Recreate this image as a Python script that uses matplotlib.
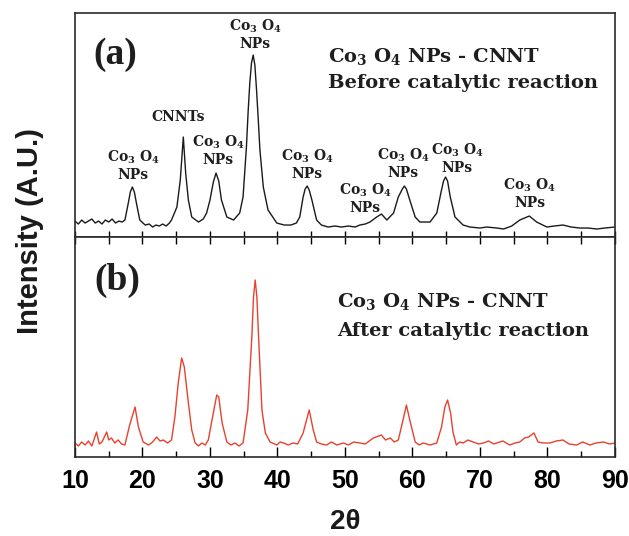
# XRD patterns of Co3O4 NPs - CNNT before and after the catalytic reaction

import matplotlib
matplotlib.use("Agg")
import matplotlib.pyplot as plt
from matplotlib.ticker import MultipleLocator

plt.rcParams["mathtext.fontset"] = "custom"
plt.rcParams["mathtext.rm"] = "DejaVu Serif:bold"
plt.rcParams["mathtext.it"] = "DejaVu Serif:bold"
plt.rcParams["mathtext.bf"] = "DejaVu Serif:bold"

# (a) before catalytic reaction (a.u.)
two_theta_a = [10.0, 10.5, 11.0, 11.5, 12.0, 12.5, 13.0, 13.5, 14.0, 14.5,
               15.0, 15.5, 16.0, 16.5, 17.0, 17.4, 17.9, 18.2, 18.5, 18.8,
               19.1, 19.6, 20.4, 21.0, 21.5, 22.0, 22.5, 23.0, 23.5, 24.0,
               24.3, 25.1, 25.6, 26.05, 26.4, 26.8, 27.3, 28.3, 29.0, 29.5,
               30.0, 30.5, 30.9, 31.3, 31.7, 32.5, 33.5, 34.4, 34.9, 35.4,
               35.65, 35.9, 36.15, 36.4, 36.65, 36.9, 37.15, 37.4, 37.9, 38.6,
               39.9, 41.0, 42.0, 42.8, 43.3, 43.8, 44.1, 44.4, 44.7, 45.1,
               45.8, 46.5, 47.5, 48.5, 49.5, 50.5, 51.5, 52.2, 53.0, 53.7,
               54.7, 55.4, 56.2, 57.2, 57.9, 58.5, 58.8, 59.1, 59.6, 60.4,
               61.1, 62.6, 63.6, 64.3, 64.6, 64.9, 65.2, 65.6, 66.3, 67.5,
               68.5, 70.0, 71.0, 72.5, 73.5, 74.7, 75.9, 77.3, 78.4, 79.9,
               81.0, 82.3, 83.5, 84.8, 86.0, 87.3, 88.5, 90.0]
intensity_a = [16, 13, 17, 14, 16, 18, 14, 16, 13, 17,
               15, 18, 14, 16, 15, 17, 34, 45, 50, 45,
               34, 17, 12, 13, 10, 12, 11, 13, 11, 14,
               17, 30, 57, 100, 64, 37, 20, 15, 18, 24,
               37, 55, 64, 56, 37, 20, 17, 24, 40, 90,
               125, 154, 174, 182, 172, 147, 118, 87, 50, 27,
               14, 12, 12, 14, 20, 40, 48, 51, 47, 37,
               17, 12, 10, 11, 10, 11, 10, 12, 13, 15,
               20, 23, 17, 24, 40, 48, 51, 48, 37, 20,
               15, 15, 24, 47, 56, 60, 56, 40, 20, 12,
               10, 9, 10, 9, 8, 11, 17, 21, 15, 10,
               11, 12, 10, 9, 9, 8, 9, 10]

# (b) after catalytic reaction
two_theta_b = [10.0, 10.5, 11.0, 11.5, 12.0, 12.5, 13.2, 13.6, 14.0, 14.7,
               15.0, 15.4, 15.9, 16.4, 16.9, 17.4, 18.1, 18.9, 19.4, 20.1,
               20.9, 21.5, 22.1, 22.6, 23.1, 23.7, 24.3, 24.8, 25.3, 25.8,
               26.2, 26.8, 27.3, 27.8, 28.3, 28.8, 29.3, 29.75, 30.3, 31.0,
               31.3, 31.8, 32.5, 33.1, 33.7, 34.3, 34.9, 35.6, 36.2, 36.45,
               36.7, 36.95, 37.2, 37.7, 38.2, 38.9, 39.9, 40.4, 40.9, 41.6,
               42.3, 43.0, 43.8, 44.7, 45.3, 45.8, 46.5, 47.3, 48.0, 48.8,
               49.8, 50.5, 51.3, 52.2, 53.0, 54.2, 55.4, 56.0, 56.7, 57.3,
               57.9, 58.6, 59.1, 59.6, 60.4, 61.0, 61.6, 62.6, 63.6, 64.3,
               64.8, 65.2, 65.65, 66.0, 66.5, 67.0, 67.5, 68.2, 69.0, 69.8,
               70.5, 71.3, 72.0, 72.5, 73.4, 74.4, 75.2, 75.9, 76.6, 77.2,
               78.0, 78.6, 79.4, 80.4, 81.3, 82.3, 83.2, 84.3, 85.2, 86.3,
               87.2, 88.3, 89.2, 90.0]
intensity_b = [14, 11, 15, 12, 16, 11, 25, 13, 15, 25,
               17, 19, 14, 17, 13, 12, 32, 50, 30, 15,
               12, 15, 20, 16, 17, 14, 17, 40, 74, 99,
               90, 54, 27, 14, 11, 14, 12, 17, 37, 62,
               60, 34, 15, 12, 14, 11, 14, 47, 120, 160,
               177, 160, 120, 47, 24, 15, 12, 15, 14, 12,
               14, 13, 24, 47, 27, 15, 13, 12, 15, 12,
               14, 12, 15, 14, 13, 19, 22, 17, 19, 15,
               17, 37, 52, 37, 15, 12, 14, 12, 14, 30,
               50, 57, 44, 25, 12, 15, 14, 17, 15, 13,
               14, 16, 13, 14, 16, 12, 14, 15, 19, 20,
               24, 15, 14, 14, 16, 17, 13, 12, 15, 12,
               14, 15, 13, 14]

# peak labels for panel (a): (2theta, height, text)
peak_x = [18.6, 25.3, 31.2, 36.7, 44.4, 53.0, 58.6, 66.6, 77.4]
peak_y = [72, 120, 87, 203, 73, 39, 74, 79, 44]
peak_text = ["Co$_3$ O$_4$\nNPs", "CNNTs", "Co$_3$ O$_4$\nNPs",
             "Co$_3$ O$_4$\nNPs", "Co$_3$ O$_4$\nNPs", "Co$_3$ O$_4$\nNPs",
             "Co$_3$ O$_4$\nNPs", "Co$_3$ O$_4$\nNPs", "Co$_3$ O$_4$\nNPs"]

fig = plt.figure(figsize=(6.29, 5.36), dpi=100)
ax_a = fig.add_axes([0.1192, 0.5578, 0.8585, 0.4179])
ax_b = fig.add_axes([0.1192, 0.1474, 0.8585, 0.4104])

ax_a.plot(two_theta_a, intensity_a, color="#1a1a1a", lw=1.0)
ax_b.plot(two_theta_b, intensity_b, color="#e8412e", lw=1.0)

ax_a.set_ylim(0, 224)
ax_b.set_ylim(0, 220)

for ax in (ax_a, ax_b):
    ax.set_xlim(10, 90)
    ax.set_yticks([])
    for s in ax.spines.values():
        s.set_linewidth(1.2)
        s.set_color("#2a2a2a")

# panel (a): small inward ticks along the bottom only
ax_a.xaxis.set_major_locator(MultipleLocator(5))
ax_a.tick_params(axis="x", direction="in", length=4, width=1,
                 labelbottom=False, top=False)

# panel (b): ticks on top and bottom, labels at the bottom
ax_b.xaxis.set_major_locator(MultipleLocator(10))
ax_b.xaxis.set_minor_locator(MultipleLocator(5))
ax_b.tick_params(axis="x", which="major", direction="in", length=7, width=1,
                 pad=9, labelsize=18)
ax_b.tick_params(axis="x", which="minor", direction="in", length=4, width=1)
for lab in ax_b.get_xticklabels():
    lab.set_fontfamily("Liberation Sans")
    lab.set_fontweight("bold")
top = ax_b.secondary_xaxis("top")
top.xaxis.set_major_locator(MultipleLocator(5))
top.tick_params(direction="in", length=5, width=1, labeltop=False)
top.spines["top"].set_visible(False)

serif = dict(family="DejaVu Serif", fontweight="bold", color="#1e1e1e")

for x, y, t in zip(peak_x, peak_y, peak_text):
    ax_a.text(x, y, t, ha="center", va="center", multialignment="center",
              fontsize=10, linespacing=1.15, **serif)

ax_a.text(15.9, 183, "(a)", ha="center", va="center", fontsize=27,
          family="Liberation Serif", fontweight="bold", color="#1e1e1e")
ax_b.text(16.2, 177, "(b)", ha="center", va="center", fontsize=27,
          family="Liberation Serif", fontweight="bold", color="#1e1e1e")

ax_a.text(47.5, 175, "Co$_3$ O$_4$ NPs - CNNT", ha="left", va="baseline",
          fontsize=14, **serif)
ax_a.text(47.5, 149, "Before catalytic reaction", ha="left", va="baseline",
          fontsize=14, **serif)
ax_b.text(48.8, 150, "Co$_3$ O$_4$ NPs - CNNT", ha="left", va="baseline",
          fontsize=14, **serif)
ax_b.text(48.8, 121, "After catalytic reaction", ha="left", va="baseline",
          fontsize=14, **serif)

fig.text(0.048, 0.569, "Intensity (A.U.)", rotation=90, ha="center",
         va="center", fontsize=21, family="Liberation Sans", fontweight="bold",
         color="#1a1a1a")
fig.text(0.5485, 0.026, "2θ", ha="center", va="center", fontsize=20,
         family="Liberation Sans", fontweight="bold", color="#1a1a1a")

fig.savefig("out.png", dpi=100)
